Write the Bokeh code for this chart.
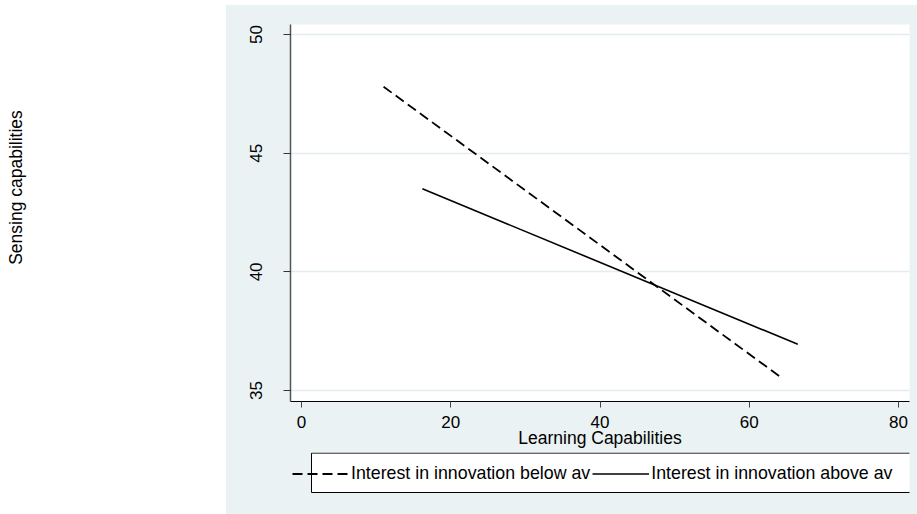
import math
from bokeh.plotting import figure
from bokeh.models import (Range1d, FixedTicker, Legend, LegendItem, Label, Spacer)
from bokeh.layouts import row, column
from bokeh.embed import file_html
from bokeh.resources import INLINE

# ---- data ----
learning_below = [11.0, 64.5]
sensing_below = [47.8, 35.5]
learning_above = [16.2, 66.5]
sensing_above = [43.5, 36.95]

x_ticks = [0, 20, 40, 60, 80]
y_ticks = [35, 40, 45, 50]

label_below = "Interest in innovation below av"
label_above = "Interest in innovation above av"
x_title = "Learning Capabilities"
y_title = "Sensing capabilities"

FONT = "Liberation Sans"
BG = "#eaf2f3"

DASHED = dict(line_color="black", line_width=1.8, line_dash="10 5")
SOLID = dict(line_color="black", line_width=1.6)

# ---- left strip holding the y title (white page area) ----
lp = figure(width=226, height=514, output_backend="svg", toolbar_location=None,
            x_range=Range1d(0, 226), y_range=Range1d(0, 514),
            x_axis_location=None, y_axis_location=None, min_border=0,
            outline_line_color=None, background_fill_color="white",
            border_fill_color="white")
lp.grid.visible = False
lp.add_layout(Label(x=15, y=514 - 187, text=y_title, angle=math.pi / 2,
                    text_align="center", text_baseline="middle",
                    text_font=FONT, text_font_size="17.5px", text_color="black"))

# ---- main plot ----
p = figure(width=691, height=447, output_backend="svg", toolbar_location=None,
           x_range=Range1d(-1.47, 81.47), y_range=Range1d(34.54, 50.42),
           min_border_left=64, min_border_top=19, min_border_right=8,
           min_border_bottom=51,
           background_fill_color="white", border_fill_color=BG,
           outline_line_color=None)

p.line(learning_below, sensing_below, **DASHED)
p.line(learning_above, sensing_above, **SOLID)

p.xgrid.visible = False
p.ygrid.grid_line_color = "#e3ecef"
p.ygrid.grid_line_width = 1.5

p.xaxis.ticker = FixedTicker(ticks=x_ticks)
p.yaxis.ticker = FixedTicker(ticks=y_ticks)
p.xaxis.minor_tick_line_color = None
p.yaxis.minor_tick_line_color = None
p.xaxis.major_tick_in = 0
p.yaxis.major_tick_in = 0
p.xaxis.major_tick_out = 6
p.yaxis.major_tick_out = 7
p.xaxis.axis_line_color = "black"
p.yaxis.axis_line_color = "#555555"
p.yaxis.axis_line_width = 1.5
p.xaxis.major_tick_line_color = "#444444"
p.yaxis.major_tick_line_color = "#333333"

p.xaxis.major_label_text_font = FONT
p.yaxis.major_label_text_font = FONT
p.xaxis.major_label_text_font_size = "17px"
p.yaxis.major_label_text_font_size = "17px"
p.xaxis.major_label_text_color = "black"
p.yaxis.major_label_text_color = "black"
p.yaxis.major_label_orientation = "vertical"
p.xaxis.major_label_standoff = 8
p.yaxis.major_label_standoff = 21

p.xaxis.axis_label = x_title
p.xaxis.axis_label_text_font = FONT
p.xaxis.axis_label_text_font_size = "17.5px"
p.xaxis.axis_label_text_font_style = "normal"
p.xaxis.axis_label_text_color = "black"
p.xaxis.axis_label_standoff = -3

# ---- legend strip (own figure so the legend is not clipped) ----
# its frame is aligned with the main frame (left edge at page x = 290)
lg = figure(width=691, height=62, output_backend="svg", toolbar_location=None,
            x_range=Range1d(0, 619), y_range=Range1d(0, 62),
            x_axis_location=None, y_axis_location=None,
            min_border_left=64, min_border_right=8, min_border_top=0,
            min_border_bottom=0,
            outline_line_color=None, background_fill_color=BG,
            border_fill_color=BG)
lg.grid.visible = False
# legend frame box
lg.quad(left=[21], right=[640], bottom=[22], top=[61.4],
        fill_color="white", line_color="black", line_width=1)
# key renderers live on a hidden range: they only supply the legend samples
lg.extra_x_ranges = {"hidden": Range1d(1000, 2000)}
k_below = lg.line(learning_below, sensing_below, x_range_name="hidden", **DASHED)
k_above = lg.line(learning_above, sensing_above, x_range_name="hidden", **SOLID)

legend = Legend(items=[LegendItem(label=label_below, renderers=[k_below]),
                       LegendItem(label=label_above, renderers=[k_above])],
                orientation="horizontal", location=(2, 25), margin=0,
                padding=0, spacing=2, glyph_width=57, glyph_height=31,
                label_height=31, label_standoff=2,
                label_text_font=FONT, label_text_font_size="17.8px",
                label_text_color="black",
                border_line_color=None, background_fill_alpha=0.0)
lg.add_layout(legend, "center")

top_gap = Spacer(width=691, height=5, styles={"background-color": "white"})
right_col = column(top_gap, p, lg, spacing=0,
                   styles={"background-color": BG})
layout = row(lp, right_col, spacing=0)
open("out.html", "w").write(file_html(layout, INLINE))
